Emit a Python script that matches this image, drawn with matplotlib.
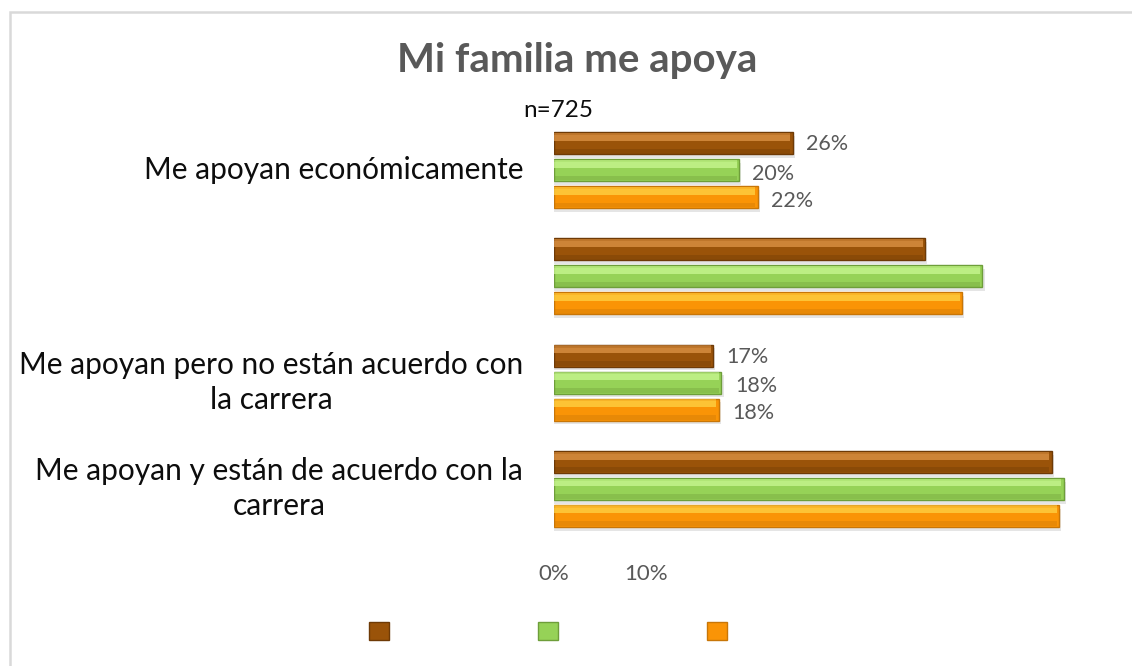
import matplotlib
matplotlib.use("Agg")
import matplotlib.pyplot as plt
from matplotlib.patches import Patch, Rectangle
import numpy as np

plt.rcParams['font.family'] = ['Lato', 'DejaVu Sans']

# ---------------- data ----------------
title = "Mi familia me apoya"
subtitle = "n=725"
categories = [
    "Me apoyan económicamente",
    "",
    "Me apoyan pero no están acuerdo con\nla carrera",
    "Me apoyan y están de acuerdo con la\ncarrera",
]
series_brown = [25.8, 40.1, 17.2, 53.8]
series_green = [20.0, 46.3, 18.1, 55.1]
series_orange = [22.0, 44.1, 17.8, 54.6]
show_label = [True, False, True, False]
tick_values = [0, 10]
tick_labels = ["0%", "10%"]

series = [series_brown, series_green, series_orange]
mid_colors = ["#9A5309", "#96D257", "#FA9406"]
light_colors = ["#E49A4C", "#CDFA96", "#FFD84A"]
dark_colors = ["#6E3A06", "#6E9E3A", "#C87608"]

# ---------------- figure ----------------
W, H = 1132, 666
fig = plt.figure(figsize=(W / 100, H / 100), dpi=100)
fig.patch.set_facecolor("white")

# outer chart border
fig.patches.append(Rectangle((10 / W, -0.1), 1.2, (H - 12) / H + 0.1,
                             transform=fig.transFigure, fill=False,
                             edgecolor="#D9D9D9", linewidth=1.8))

ax_left, ax_right = 554, 1109
ax_top, ax_bot = 117, 542
ax = fig.add_axes([ax_left / W, 1 - ax_bot / H, (ax_right - ax_left) / W,
                   (ax_bot - ax_top) / H])
ax.set_xlim(0, 60)
ax.set_ylim(3.5, -0.5)
ax.axis("off")

step = 0.2535
h = 0.207
offsets = [-step, 0.0, step]
ypos = np.arange(len(categories))

for j, vals in enumerate(series):
    y = ypos + offsets[j]
    v = np.array(vals)
    # shadow
    ax.barh(y + 0.035, v + 0.25, height=h, color="#9A9A9A",
            alpha=0.25, linewidth=0, zorder=1)
    # base bar
    ax.barh(y, v, height=h, color=mid_colors[j], edgecolor=dark_colors[j],
            linewidth=1.0, zorder=2)
    # upper highlight
    ax.barh(y - h * 0.24, v - 0.25, height=h * 0.26,
            color=light_colors[j], alpha=0.7, linewidth=0, zorder=3)
    ax.barh(y - h * 0.42, v - 0.25, height=h * 0.1,
            color=light_colors[j], alpha=0.5, linewidth=0, zorder=3)
    # lower shade
    ax.barh(y + h * 0.36, v - 0.25, height=h * 0.22,
            color=dark_colors[j], alpha=0.35, linewidth=0, zorder=3)
    for i, val in enumerate(vals):
        if show_label[i]:
            ax.text(val + 1.45, y[i] + 0.01 + 0.025 * (j > 0),
                    f"{round(val):.0f}%", va="center", ha="left",
                    fontsize=15.5, color="#595959")

# category labels
for i, lab in enumerate(categories):
    if lab:
        ax.text(-3.35, ypos[i], lab, ha="right", va="center",
                multialignment="center", fontsize=21.5, color="#0D0D0D",
                linespacing=1.3)

# x tick labels
for v, lab in zip(tick_values, tick_labels):
    ax.text(v, 3.5 + 32 / 106.5, lab, ha="center", va="center",
            fontsize=16, color="#595959")

# title and n
fig.text(577 / W, 1 - 72 / H, title, ha="center", va="baseline",
         fontsize=29, fontweight="bold", color="#595959")
fig.text(558 / W, 1 - 117 / H, subtitle, ha="center", va="baseline",
         fontsize=17.5, color="#0D0D0D")

# legend (no visible text)
handles = [Patch(facecolor=mid_colors[j], edgecolor=dark_colors[j], linewidth=1)
           for j in range(3)]
fig.legend(handles, ["", "", ""], loc="center", ncol=3,
           bbox_to_anchor=(548 / W, 1 - 631 / H), frameon=False, fontsize=14.5,
           handlelength=1.0, handleheight=1.0, handletextpad=0.0,
           columnspacing=7.4)

fig.savefig("out.png", dpi=100, facecolor="white")
